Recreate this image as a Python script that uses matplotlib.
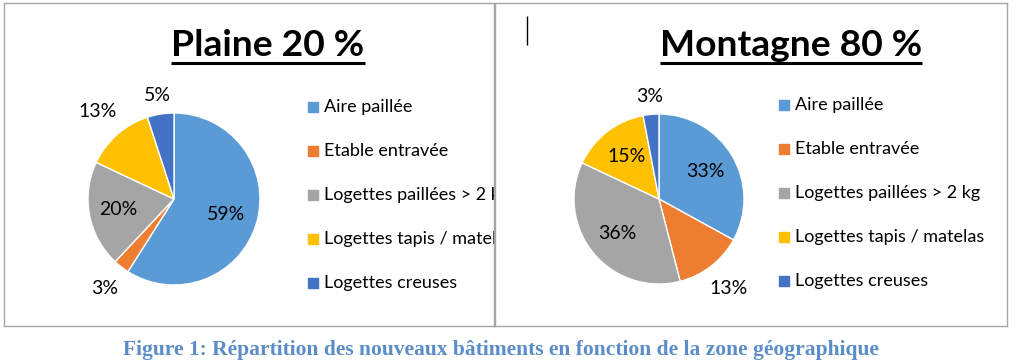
import matplotlib
matplotlib.use("Agg")
import numpy as np
import matplotlib.pyplot as plt

categories = ["Aire paillée", "Etable entravée", "Logettes paillées > 2 kg",
              "Logettes tapis / matelas", "Logettes creuses"]
plaine_values = [59, 3, 20, 13, 5]
montagne_values = [33, 13, 36, 15, 3]
titles = ["Plaine 20 %", "Montagne 80 %"]
caption = "Figure 1: Répartition des nouveaux bâtiments en fonction de la zone géographique"

colors = ["#5B9BD5", "#ED7D31", "#A5A5A5", "#FFC000", "#4472C4"]
# radial position of each percentage label, in pie radii
plaine_label_dist = [0.63, 1.31, 0.66, 1.35, 1.22]
montagne_label_dist = [0.63, 1.33, 0.64, 0.63, 1.21]

plt.rcParams['font.family'] = ['Lato', 'DejaVu Sans']

W, H = 1028, 363
fig = plt.figure(figsize=(W / 100, H / 100), dpi=100)


def panel(x0, x1, values, title, label_dist, cx, cy, r, title_x, leg_x, leg_y0):
    # axes in pixel coordinates (y up)
    ax = fig.add_axes([x0 / W, (H - 326) / H, (x1 - x0) / W, 323 / H])
    ax.set_xlim(x0, x1)
    ax.set_ylim(H - 326, H - 3)
    ax.set_xticks([])
    ax.set_yticks([])
    for s in ax.spines.values():
        s.set_color("#a6a6a6")
        s.set_linewidth(1)

    wedges, _ = ax.pie(values, colors=colors, startangle=90, counterclock=False,
                       center=(cx, cy), radius=r, frame=True,
                       wedgeprops=dict(edgecolor="white", linewidth=1))
    ax.set_xlim(x0, x1)
    ax.set_ylim(H - 326, H - 3)
    ax.set_aspect('auto')

    total = sum(values)
    start = 0
    for v, d in zip(values, label_dist):
        mid = (start + v / 2) / total
        ang = np.deg2rad(90 - mid * 360)
        ax.text(cx + d * r * np.cos(ang), cy + d * r * np.sin(ang), f"{v}%",
                ha="center", va="center", fontsize=14, color="#000000")
        start += v

    t = ax.text(title_x, H - 45, title, ha="center", va="center",
                fontsize=26.8, fontweight="bold")
    fig.canvas.draw()
    bb = t.get_window_extent().transformed(ax.transData.inverted())
    ax.plot([bb.x0, bb.x1], [H - 63, H - 63], color="black", lw=2.2,
            solid_capstyle="butt")

    for i, (lab, c) in enumerate(zip(categories, colors)):
        y = H - (leg_y0 + 44 * i)
        ax.scatter([leg_x], [y], marker="s", s=55, color=c, clip_on=True)
        ax.text(leg_x + 11, y, lab, ha="left", va="center", fontsize=13,
                clip_on=True)
    return ax


panel(4, 494, plaine_values, titles[0], plaine_label_dist,
      174, H - 199, 86, 268, 313, 107)
ax_r = panel(495, 1007, montagne_values, titles[1], montagne_label_dist,
             659, H - 199, 85, 791, 784, 105)
ax_r.vlines(527, H - 45, H - 16, color="black", lw=1)

fig.text(501 / W, 1 - 350 / H, caption, ha="center", va="center",
         fontsize=15.5, fontweight="bold", color="#5B8EC9",
         family=["Liberation Serif", "DejaVu Serif"])

fig.savefig("out.png", dpi=100)
